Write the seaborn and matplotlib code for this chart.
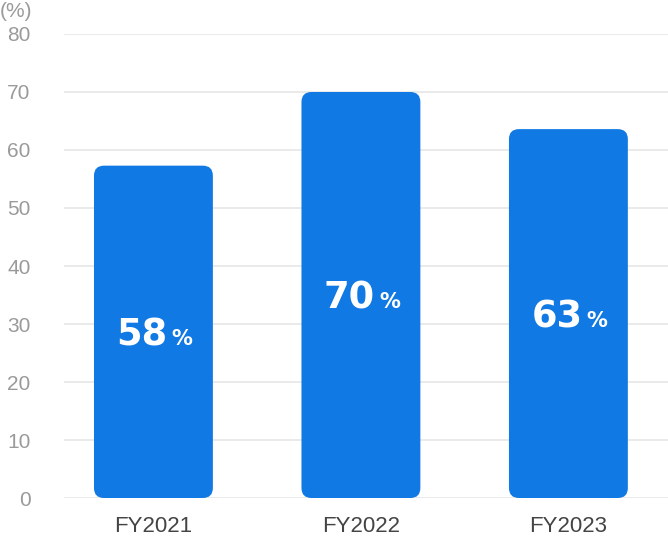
import matplotlib
matplotlib.use("Agg")
import matplotlib.pyplot as plt
import seaborn as sns
import pandas as pd
from matplotlib.patches import FancyBboxPatch

categories = ["FY2021", "FY2022", "FY2023"]
values = [57.3, 70.0, 63.6]
labels = ["58", "70", "63"]
yticks = [0, 10, 20, 30, 40, 50, 60, 70, 80]

sns.set_theme(style="white")
plt.rcParams['font.family'] = ['Liberation Sans', 'DejaVu Sans']

W, H = 668, 538
fig = plt.figure(figsize=(W / 100, H / 100), dpi=100)
ax = fig.add_axes([64 / W, 40 / H, (W - 64) / W, 464 / H])

df = pd.DataFrame({"cat": categories, "val": values})
bar_color = "#1179E3"
sns.barplot(data=df, x="cat", y="val", color=bar_color, width=0.573, ax=ax, saturation=1)

ax.set_ylim(0, 80)
ax.set_xlim(-0.431, 2.48)

# replace bars with rounded ones
px_per_x = (W - 64) / (2.48 + 0.431)
px_per_y = 464 / 80
r_px = 10
r_x = r_px / px_per_x
aspect = (r_px / px_per_y) / r_x
for p in list(ax.patches):
    x0, y0 = p.get_x(), p.get_y()
    w, h = p.get_width(), p.get_height()
    p.remove()
    fb = FancyBboxPatch((x0, y0), w, h, boxstyle=f"round,pad=0,rounding_size={r_x}",
                        mutation_aspect=aspect, facecolor=bar_color, edgecolor="none", zorder=3)
    ax.add_patch(fb)

for i, (v, lab) in enumerate(zip(values, labels)):
    ax.annotate(lab, xy=(i, v / 2), xytext=(10, -9.7), textcoords="offset points",
                ha="right", va="baseline", color="white", fontsize=26.5, fontweight="bold",
                family=["DejaVu Sans"], zorder=4)
    ax.annotate("%", xy=(i, v / 2), xytext=(13, -9.7), textcoords="offset points",
                ha="left", va="baseline", color="white", fontsize=15, fontweight="bold",
                family=["DejaVu Sans"], zorder=4)

ax.set_yticks(yticks)
ax.set_yticklabels([str(t) for t in yticks])
ax.yaxis.grid(True, color="#e6e6e6", linewidth=1.2, zorder=0)
ax.set_axisbelow(True)
for s in ax.spines.values():
    s.set_visible(False)
ax.tick_params(axis="y", length=0, pad=24, labelsize=15, labelcolor="#9a9a9a")
ax.tick_params(axis="x", length=0, pad=13, labelsize=16, labelcolor="#444444")
ax.set_xlabel("")
ax.set_ylabel("")

fig.text(0, 1 - 2 / H, "(%)", ha="left", va="top", fontsize=15, color="#9a9a9a")

fig.savefig("out.png", dpi=100)
